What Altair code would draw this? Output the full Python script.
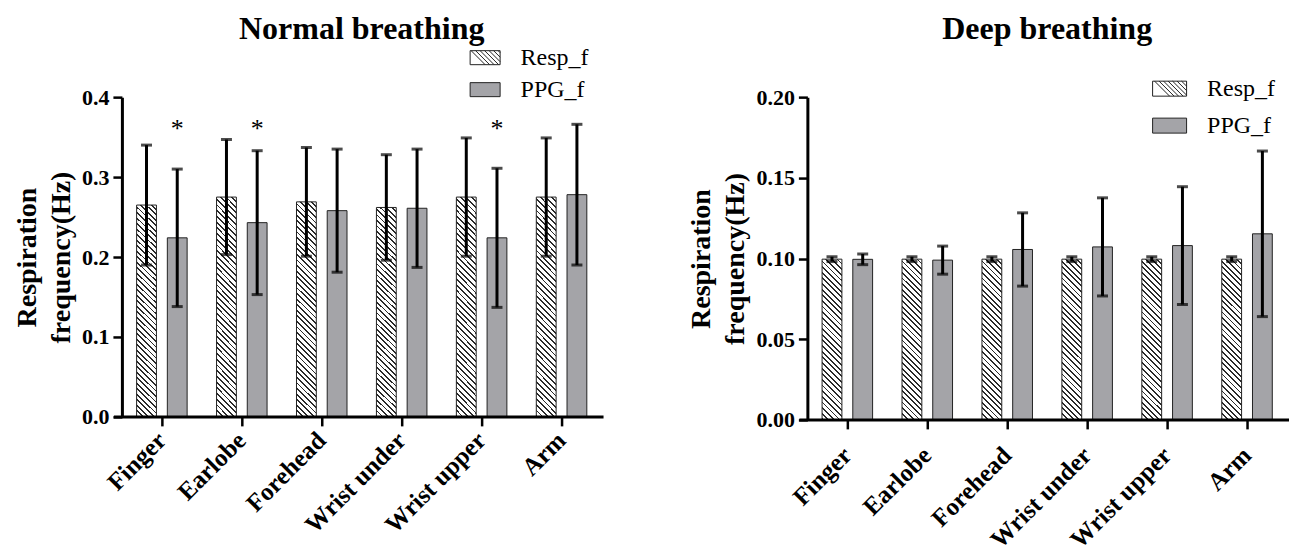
import math
import altair as alt
import pandas as pd

# ---------------- data ----------------
sites = ["Finger", "Earlobe", "Forehead", "Wrist under", "Wrist upper", "Arm"]
series_names = ["Resp_f", "PPG_f"]

normal_resp_mean = [0.265, 0.275, 0.269, 0.262, 0.275, 0.275]
normal_resp_sd = [0.075, 0.072, 0.068, 0.066, 0.074, 0.074]
normal_ppg_mean = [0.224, 0.243, 0.258, 0.261, 0.224, 0.278]
normal_ppg_sd = [0.086, 0.090, 0.077, 0.074, 0.087, 0.088]

deep_resp_mean = [0.0996, 0.0996, 0.0996, 0.0996, 0.0996, 0.0996]
deep_resp_sd = [0.0015, 0.0015, 0.0015, 0.0015, 0.0015, 0.0015]
deep_ppg_mean = [0.0995, 0.0990, 0.1056, 0.1072, 0.1080, 0.1153]
deep_ppg_sd = [0.0033, 0.0087, 0.0227, 0.0304, 0.0365, 0.0513]

normal_significant = ["Finger", "Earlobe", "Wrist upper"]
normal_star_y = [0.35, 0.35, 0.35]

normal_ticks = [0.0, 0.1, 0.2, 0.3, 0.4]
deep_ticks = [0.0, 0.05, 0.10, 0.15, 0.20]

y_title = ["Respiration", "frequency(Hz)"]

# ---------------- style ----------------
FONT = "Liberation Serif"
GREY = "#a4a4a8"
EDGE = "#222222"
W = 480


def panel_df(resp_mean, resp_sd, ppg_mean, ppg_sd):
    rows = []
    for i, s in enumerate(sites):
        rows.append({"site": s, "series": "Resp_f", "mean": resp_mean[i], "sd": resp_sd[i]})
        rows.append({"site": s, "series": "PPG_f", "mean": ppg_mean[i], "sd": ppg_sd[i]})
    return pd.DataFrame(rows)


def hatch_gradient(w, h, spacing=4.0, line=1.3, ink="#2a2a2a", bg="white"):
    # "\" hatching expressed as a sharp-stop linear gradient (bbox units)
    s = (w + h) / (w * w + h * h)
    x2 = s * w
    y2 = 1 - s * h
    extent = (w + h) / math.sqrt(2)
    n = max(1, round(extent / spacing))
    f = line / spacing
    stops = []
    for i in range(n):
        a, b, c = i / n, (i + f) / n, (i + 1) / n
        stops += [
            alt.GradientStop(offset=a, color=ink),
            alt.GradientStop(offset=b, color=ink),
            alt.GradientStop(offset=b, color=bg),
            alt.GradientStop(offset=c, color=bg),
        ]
    return alt.LinearGradient(gradient="linear", stops=stops, x1=0, y1=1, x2=x2, y2=y2)


def hatch_path(hy, step):
    parts = [f"M-1,{-hy:.3f}H1V{hy:.3f}H-1Z"]
    c = -2 * hy
    while c < 1:
        x0, y0 = c, -hy
        x1, y1 = c + 2 * hy, hy
        if x0 < -1:
            y0 = -hy + (-1 - x0)
            x0 = -1
        if x1 > 1:
            y1 = -hy + (1 - c)
            x1 = 1
        if y1 > y0:
            parts.append(f"M{x0:.3f},{y0:.3f}L{x1:.3f},{y1:.3f}")
        c += step
    return "".join(parts)


def rect_path(hy):
    return f"M-1,{-hy:.3f}H1V{hy:.3f}H-1Z"


def panel(df, title, title_offset, ymax, ticks, fmt, H, bar_h, sym_w, sym_h, legx,
          leg_y1, leg_y2, label_pad, stars=None):
    x_enc = alt.X(
        "site:N", sort=sites,
        scale=alt.Scale(domain=sites, paddingInner=0, paddingOuter=0),
        axis=alt.Axis(title=None, labelAngle=-45, labelAlign="right", labelBaseline="middle",
                      labelFontSize=25, labelFontWeight="bold", labelPadding=label_pad,
                      domain=False, tickSize=9, tickWidth=2.5, labelLimit=300),
    )
    xo_enc = alt.XOffset(
        "series:N", sort=series_names,
        scale=alt.Scale(domain=series_names, paddingInner=0.355, paddingOuter=0.479),
    )
    y_scale = alt.Scale(domain=[0, ymax], nice=False, zero=True)
    y_axis = alt.Axis(values=ticks, format=fmt, title=y_title, titleFontSize=28,
                      titleFontWeight="bold", titleLineHeight=34, titlePadding=6,
                      labelFontSize=22, labelFontWeight="bold", labelPadding=4,
                      tickSize=9, tickWidth=2.5, domainWidth=3, grid=False)

    def Y(field):
        return alt.Y(field, scale=y_scale, axis=y_axis)

    base = alt.Chart(df).transform_calculate(
        lo="datum.mean - datum.sd", hi="datum.mean + datum.sd"
    )
    resp = base.transform_filter("datum.series == 'Resp_f'")
    ppg = base.transform_filter("datum.series == 'PPG_f'")

    bar_w = W / 6 / 2.603 * (1 - 0.355)
    grad = hatch_gradient(bar_w, bar_h)

    resp_fill = resp.mark_bar(fill=grad, strokeWidth=0).encode(
        x=x_enc, xOffset=xo_enc, y=Y("mean:Q"))

    sym_size = sym_w * sym_w
    hy = sym_h / sym_w
    resp_outline = resp.mark_bar(filled=False, strokeWidth=1).encode(
        x=x_enc, xOffset=xo_enc, y=Y("mean:Q"),
        stroke=alt.Stroke(
            "series:N",
            scale=alt.Scale(domain=["Resp_f"], range=[EDGE]),
            legend=alt.Legend(title=None, orient="none", legendX=legx, legendY=leg_y1,
                              symbolType=hatch_path(hy, 4.5 / (sym_w / 2)),
                              symbolSize=sym_size, symbolFillColor="white",
                              symbolStrokeWidth=1, labelFont=FONT, labelFontSize=24,
                              labelFontWeight="normal", labelColor="black",
                              labelOffset=20, padding=0),
        ),
    )
    ppg_bars = ppg.mark_bar(fill=GREY, strokeWidth=1).encode(
        x=x_enc, xOffset=xo_enc, y=Y("mean:Q"),
        stroke=alt.Stroke(
            "series:N",
            scale=alt.Scale(domain=["PPG_f"], range=[EDGE]),
            legend=alt.Legend(title=None, orient="none", legendX=legx, legendY=leg_y2,
                              symbolType=rect_path(hy), symbolSize=sym_size,
                              symbolFillColor=GREY, symbolStrokeWidth=1,
                              labelFont=FONT, labelFontSize=24,
                              labelFontWeight="normal", labelColor="black",
                              labelOffset=20, padding=0),
        ),
    )
    err = base.mark_rule(strokeWidth=3, color="black").encode(
        x=x_enc, xOffset=xo_enc, y=Y("lo:Q"), y2="hi:Q")
    cap_lo = base.mark_tick(thickness=3, size=11, color="black").encode(
        x=x_enc, xOffset=xo_enc, y=Y("lo:Q"))
    cap_hi = base.mark_tick(thickness=3, size=11, color="black").encode(
        x=x_enc, xOffset=xo_enc, y=Y("hi:Q"))
    xline = alt.Chart(pd.DataFrame({"k": [0]})).mark_rule(
        color="black", strokeWidth=3).encode(
        y=alt.datum(0), x=alt.value(-8), x2=alt.value(W + 2))

    layers = [resp_fill, resp_outline, ppg_bars, err, cap_lo, cap_hi, xline]
    if stars is not None:
        star_layer = alt.Chart(stars).mark_text(
            text="*", fontSize=26, font=FONT, color="black", baseline="alphabetic"
        ).encode(x=x_enc, xOffset=xo_enc, y=Y("star:Q"))
        layers.append(star_layer)

    return alt.layer(*layers).resolve_scale(stroke="independent").properties(
        width=W, height=H,
        title=alt.TitleParams(title, font=FONT, fontSize=32, fontWeight="bold",
                              anchor="middle", frame="group", offset=title_offset,
                              color="black"),
    )


normal_df = panel_df(normal_resp_mean, normal_resp_sd, normal_ppg_mean, normal_ppg_sd)
deep_df = panel_df(deep_resp_mean, deep_resp_sd, deep_ppg_mean, deep_ppg_sd)
star_df = pd.DataFrame({"site": normal_significant,
                        "series": ["PPG_f"] * len(normal_significant),
                        "star": normal_star_y})

left = panel(normal_df, "Normal breathing", -4, 0.4, normal_ticks, ".1f", 320, 216,
             30, 14, 348, -55, -23, 10, stars=star_df)
right = panel(deep_df, "Deep breathing", 25, 0.2, deep_ticks, ".2f", 323, 161,
              34, 15, 345, -26, 11, 22)

chart = alt.hconcat(left, right, spacing=82).properties(
    padding={"top": 5, "left": 5, "right": 0, "bottom": 0}
).configure(font=FONT).configure_view(strokeWidth=0).configure_axis(
    labelFont=FONT, titleFont=FONT, labelColor="black", titleColor="black",
    domainColor="black", tickColor="black", grid=False,
)

chart.save("out.html", embed_options={"renderer": "svg", "actions": False})
